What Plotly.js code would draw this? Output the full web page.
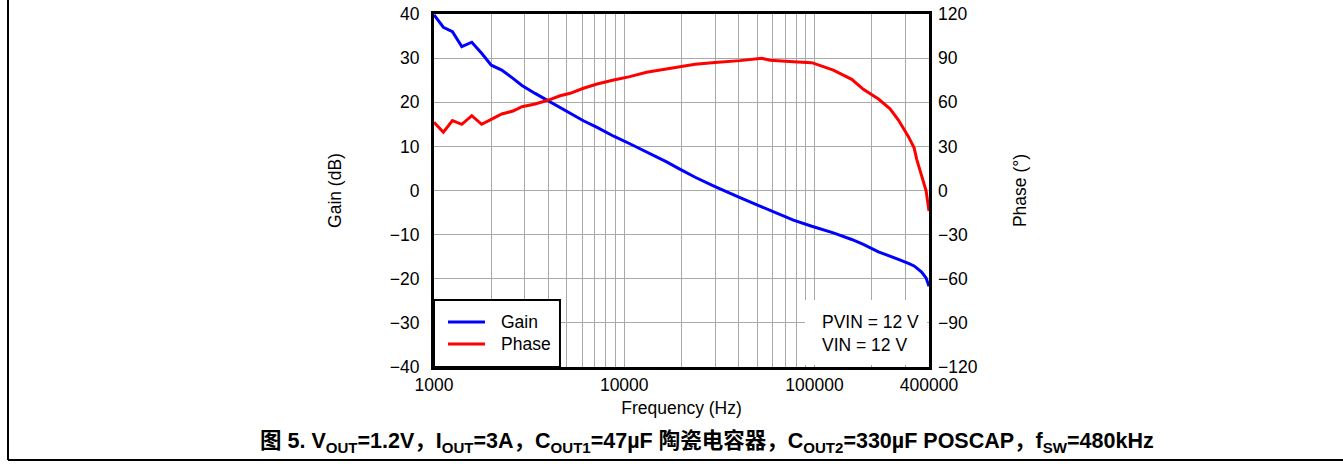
<!DOCTYPE html>
<html>
<head>
<meta charset="utf-8">
<script src="https://cdn.plot.ly/plotly-3.0.1.min.js"></script>
<style>
  html, body { margin: 0; padding: 0; background: #ffffff; }
  #chart { width: 1343px; height: 464px; }
</style>
</head>
<body>
<div id="chart"></div>
<script>
// Loop response: frequency (Hz), gain (dB) and phase (deg)
const freqHz = [1000, 1120, 1250, 1400, 1580, 1780, 2000, 2270, 2600, 2900, 3400, 4000, 4600, 5200,
  6100, 7200, 8800, 10700, 13100, 16700, 19700, 23600, 30000, 34600, 40600, 52800, 58400, 77500,
  96800, 125700, 157000, 180700, 216900, 249600, 276300, 311900, 334000, 345100, 366000, 386000, 400000];
const gainDb = [39.8, 37.0, 36.0, 32.6, 33.6, 31.1, 28.4, 27.3, 25.4, 23.8, 22.0, 20.3, 18.8, 17.5,
  15.8, 14.3, 12.3, 10.6, 8.8, 6.5, 4.8, 3.0, 0.9, -0.2, -1.6, -3.7, -4.5, -6.7,
  -8.1, -9.6, -11.1, -12.2, -13.9, -14.8, -15.6, -16.5, -17.1, -17.6, -18.5, -19.8, -21.7];
const phaseDeg = [46.4, 39.6, 47.5, 45.0, 50.9, 45.0, 48.4, 52.0, 54.0, 57.0, 58.8, 61.5, 64.4, 66.1,
  69.5, 72.4, 75.1, 77.4, 80.4, 82.5, 83.8, 85.8, 87.0, 87.6, 88.3, 89.9, 88.6, 87.6,
  86.9, 81.9, 75.6, 68.8, 62.2, 55.5, 47.9, 36.6, 29.0, 21.0, 10.0, 0.0, -14.0];

// Frequency axis: grid at every 1-2-...-9 step, labels only on a few
const freqGrid = [1000, 2000, 3000, 4000, 5000, 6000, 7000, 8000, 9000,
  10000, 20000, 30000, 40000, 50000, 60000, 70000, 80000, 90000,
  100000, 200000, 300000, 400000];
const freqLabeled = [1000, 10000, 100000, 400000];
const freqText = freqGrid.map(v => freqLabeled.includes(v) ? String(v) : '');

const gainTicks = [-40, -30, -20, -10, 0, 10, 20, 30, 40];
const phaseTicks = [-120, -90, -60, -30, 0, 30, 60, 90, 120];

const seriesNames = ['Gain', 'Phase'];
const seriesColors = ['#0000ff', '#ff0000'];

const FONT = 'Liberation Sans, Arial, Noto Sans CJK SC, sans-serif';
const GRID = '#a9a9a9';

const traces = [
  { x: freqHz, y: gainDb, name: seriesNames[0], type: 'scatter', mode: 'lines',
    line: { color: seriesColors[0], width: 3 }, yaxis: 'y' },
  { x: freqHz, y: phaseDeg, name: seriesNames[1], type: 'scatter', mode: 'lines',
    line: { color: seriesColors[1], width: 3 }, yaxis: 'y2' }
];

// Legend panel in the lower-left corner of the plot (axis-domain fractions)
const legendRows = [0.1275, 0.0652];
const legendShapes = [
  { type: 'rect', xref: 'x domain', yref: 'y domain', x0: 0, x1: 0.2545, y0: 0, y1: 0.19,
    fillcolor: '#ffffff', line: { color: '#000000', width: 2 }, layer: 'above' }
].concat(seriesNames.map((n, i) => ({
  type: 'line', xref: 'x domain', yref: 'y domain', x0: 0.0283, x1: 0.103,
  y0: legendRows[i], y1: legendRows[i], line: { color: seriesColors[i], width: 3 }, layer: 'above'
})));
const legendLabels = seriesNames.map((n, i) => ({
  xref: 'x domain', yref: 'y domain', x: 0.1313, y: legendRows[i], xanchor: 'left', yanchor: 'middle',
  showarrow: false, text: n, font: { family: FONT, size: 17.5, color: '#000000' }
}));

const layout = {
  width: 1343, height: 464,
  margin: { l: 434, r: 414, t: 14, b: 97 },
  paper_bgcolor: '#ffffff', plot_bgcolor: '#ffffff',
  font: { family: FONT, size: 17.5, color: '#000000' },
  showlegend: false,
  xaxis: {
    type: 'log', range: [3, Math.log10(400000)],
    tickmode: 'array', tickvals: freqGrid, ticktext: freqText,
    showgrid: true, gridcolor: GRID, gridwidth: 1,
    showline: true, mirror: true, linecolor: '#000000', linewidth: 3,
    ticks: '', zeroline: false, ticklabelstandoff: 0,
    title: { text: 'Frequency (Hz)', standoff: 8, font: { family: FONT, size: 17.5 } }
  },
  yaxis: {
    range: [-40, 40], tickmode: 'array', tickvals: gainTicks,
    showgrid: true, gridcolor: GRID, gridwidth: 1,
    showline: true, mirror: true, linecolor: '#000000', linewidth: 3,
    ticks: '', zeroline: false, ticklabelstandoff: 8,
    title: { text: 'Gain (dB)', standoff: 44, font: { family: FONT, size: 17.5 } }
  },
  yaxis2: {
    overlaying: 'y', side: 'right', range: [-120, 120],
    tickmode: 'array', tickvals: phaseTicks,
    showgrid: false, zeroline: false, showline: false, ticks: '', ticklabelstandoff: 8,
    title: { text: 'Phase (°)', standoff: 37, font: { family: FONT, size: 17.5 } }
  },
  shapes: legendShapes.concat([
    // backing for the test-condition note (kept inside the plot frame)
    { type: 'rect', xref: 'x domain', yref: 'y domain', x0: 0.7495, x1: 0.996, y0: 0.006, y1: 0.19,
      fillcolor: '#ffffff', line: { width: 0 }, layer: 'above' },
    // figure frame: left and bottom rules
    { type: 'line', xref: 'paper', yref: 'paper', x0: -0.8606, x1: -0.8606, y0: -0.2635, y1: 1.06,
      line: { color: '#000000', width: 2 }, layer: 'above' },
    { type: 'line', xref: 'paper', yref: 'paper', x0: -0.8606, x1: 1.84, y0: -0.2635, y1: -0.2635,
      line: { color: '#000000', width: 2 }, layer: 'above' }
  ]),
  annotations: legendLabels.concat([
    { xref: 'paper', yref: 'paper', x: 0.780, y: 0.0935, xanchor: 'left', yanchor: 'middle',
      align: 'left', showarrow: false,
      text: 'PVIN = 12 V<br>VIN = 12 V',
      font: { family: FONT, size: 17.5, color: '#000000' } },
    { xref: 'paper', yref: 'paper', x: 0.5515, y: -0.2125, xanchor: 'center', yanchor: 'middle',
      showarrow: false,
      text: '<b>图 5. V<sub>OUT</sub>=1.2V，I<sub>OUT</sub>=3A，C<sub>OUT1</sub>=47µF 陶瓷电容器，C<sub>OUT2</sub>=330µF POSCAP，f<sub>SW</sub>=480kHz</b>',
      font: { family: FONT, size: 21.5, color: '#000000' } }
  ])
};

Plotly.newPlot('chart', traces, layout, { displayModeBar: false, staticPlot: true });
</script>
</body>
</html>
